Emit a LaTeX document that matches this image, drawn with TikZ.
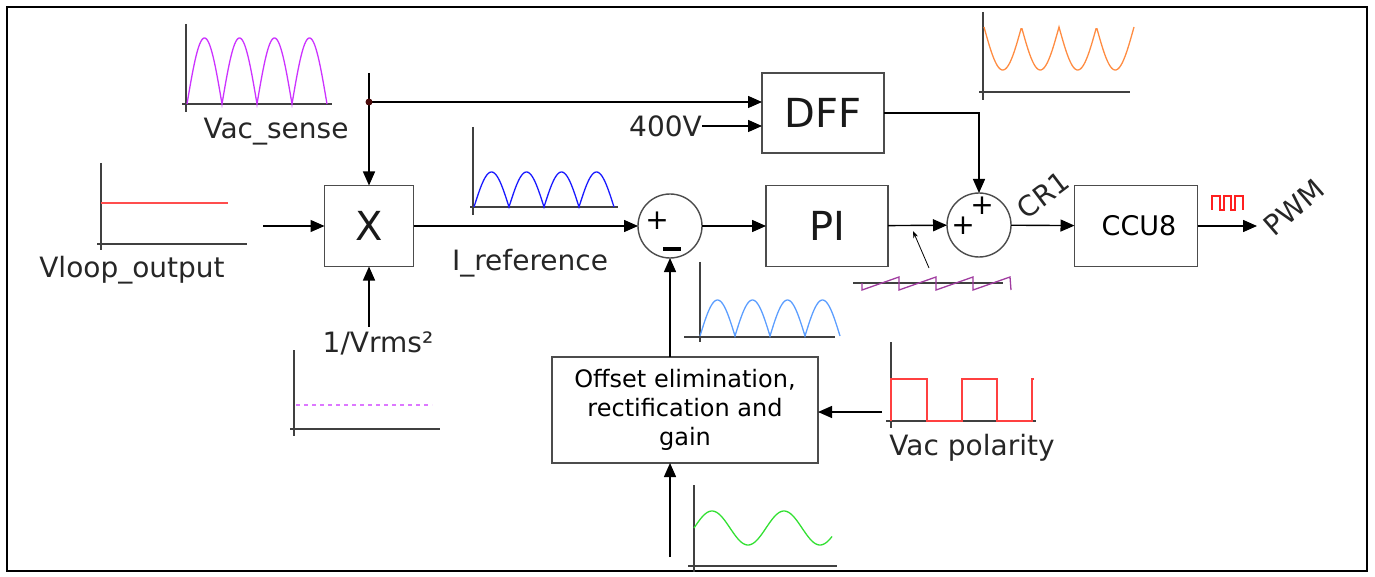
\documentclass[tikz,border=0pt]{standalone}
\usepackage{fontspec}
\setmainfont{DejaVu Sans}
\usetikzlibrary{arrows.meta}

\definecolor{vacviolet}{HTML}{CC33FF}
\definecolor{rmsviolet}{HTML}{DD77FF}
\definecolor{vloopred}{HTML}{FF4D4D}
\definecolor{irefblue}{HTML}{1A1AFF}
\definecolor{fbblue}{HTML}{5C9EFF}
\definecolor{dfforange}{HTML}{FF8C42}
\definecolor{sawpurple}{HTML}{A03CA0}
\definecolor{polred}{HTML}{FF4040}
\definecolor{sinegreen}{HTML}{33E033}
\definecolor{pwmred}{HTML}{FF2020}
\definecolor{dotred}{HTML}{4A0A0A}

\begin{document}
\begin{tikzpicture}[x=1pt, y=-1pt, >={Triangle[length=14pt, width=12pt]}]

  % Styles
  \tikzset{
    block/.style={draw=black!70, line width=1.4pt, inner sep=0pt, outer sep=0pt},
    sumjunction/.style={circle, draw=black!70, line width=1.4pt, minimum size=64pt, inner sep=0pt, outer sep=0pt},
    wire/.style={line width=1.4pt, ->},
    axis/.style={draw=black!75, line width=1.6pt},
    sig label/.style={font=\fontsize{28}{32}\selectfont, text=black!85, inner sep=0pt},
    big label/.style={font=\fontsize{40}{44}\selectfont, text=black!90},
    sign/.style={font=\fontsize{28}{30}\selectfont, inner sep=0pt}
  }

  \useasboundingbox (0,0) rectangle (1375,577);
  \draw[line width=2pt] (7,7) rectangle (1367,571);

  % --- BLOCKS ---
  \node[block, minimum width=89pt, minimum height=81pt, big label] (xmul) at (369,226) {X};
  \node[block, minimum width=122pt, minimum height=80pt, big label] (dff) at (823,113) {DFF};
  \node[block, minimum width=122pt, minimum height=81pt, big label] (pi) at (827,226) {PI};
  \node[block, minimum width=123pt, minimum height=81pt, font=\fontsize{27}{30}\selectfont] (ccu) at (1136,226) {\hspace{6pt}CCU8};
  \node[block, minimum width=266pt, minimum height=106pt, align=center, font=\fontsize{24}{29}\selectfont] (offset) at (685,410) {Offset elimination,\\rectification and\\gain};

  % --- SUMMING JUNCTIONS ---
  \node[sumjunction] (sum1) at (670,226) {};
  \node[sign] (s1plus) at (657,221) {+};
  \node[sign] (s1minus) at (672,249) {\rule{18pt}{4pt}};
  \node[sumjunction] (sum2) at (979,225) {};
  \node[sign] (s2plus) at (982,206) {+};
  \node[sign] (s2left) at (963,226) {+};

  % --- LABELS ---
  \node[sig label] (vacsense) at (276,132) {Vac\_sense};
  \node[sig label] (vloop) at (132,270) {Vloop\_output};
  \node[sig label] (rms) at (378,343) {1/Vrms²};
  \node[sig label] (iref) at (530,263) {I\_reference};
  \node[sig label, anchor=east] (v400) at (702,126) {400V};
  \node[sig label, rotate=37] (cr1) at (1043,195) {CR1};
  \node[sig label, rotate=41] (pwm) at (1294,207) {PWM};
  \node[sig label] (vacpol) at (972,448) {Vac polarity};

  % --- CONNECTIONS ---
  \coordinate (jn) at (369,102);
  \coordinate (vacin) at (369,73);
  \coordinate (vlin) at (263,226);
  \coordinate (rmsin) at (369,327);
  \coordinate (pwmout) at (1257,226);
  \coordinate (sinein) at (670,557);
  \coordinate (polin) at (882,412);
  \coordinate (sawfoot) at (929,268);
  \coordinate (sawtip) at (913,231);

  \draw[wire] (vacin) -- (xmul);
  \draw[wire] (jn) -- (jn -| dff.west);
  \fill[dotred] (jn) circle (3.5pt);
  \draw[wire] (v400) -- (v400 -| dff.west);
  \draw[wire] (dff.east) -- (dff.east -| sum2) -- (sum2);
  \draw[wire] (vlin) -- (xmul);
  \draw[wire] (rmsin) -- (xmul);
  \draw[wire] (xmul) -- (sum1);
  \draw[wire] (sum1) -- (pi);
  \draw[wire] (pi) -- (sum2);
  \draw[wire] (sum2) -- (ccu);
  \draw[wire] (ccu) -- (pwmout);
  \draw[wire] (offset.north -| sum1) -- (sum1);
  \draw[wire] (sinein) -- (sinein |- offset.south);
  \draw[wire] (polin) -- (polin -| offset.east);
  \draw[line width=0.8pt, -{Stealth[length=7pt, width=5pt]}] (sawfoot) -- (sawtip);

  % --- WAVEFORMS ---
  % Vac_sense
  \draw[axis] (186,24) -- (186,112);
  \draw[axis] (182,104) -- (332,104);
  \draw[vacviolet, line width=1.3pt] plot[domain=0:140, samples=141] ({187+\x},{104-66*abs(sin(180/35*\x))});

  % Vloop_output
  \draw[axis] (101,163) -- (101,250);
  \draw[axis] (97,244) -- (247,244);
  \draw[vloopred, line width=1.6pt] (101,203) -- (228,203);

  % 1/Vrms^2
  \draw[axis] (294,350) -- (294,436);
  \draw[axis] (290,429) -- (440,429);
  \draw[rmsviolet, line width=1.3pt, dash pattern=on 4pt off 4pt] (296,405) -- (432,405);

  % I_reference
  \draw[axis] (473,127) -- (473,215);
  \draw[axis] (470,207) -- (618,207);
  \draw[irefblue, line width=1.3pt] plot[domain=0:140, samples=141] ({474+\x},{207-35*abs(sin(180/35*\x))});

  % feedback current
  \draw[axis] (700,262) -- (700,342);
  \draw[axis] (684,337) -- (835,337);
  \draw[fbblue, line width=1.3pt] plot[domain=0:140, samples=141] ({700+\x},{336-36*abs(sin(180/35*\x))});

  % DFF output
  \draw[axis] (983,12) -- (983,100);
  \draw[axis] (979,92) -- (1130,92);
  \draw[dfforange, line width=1.3pt] plot[domain=0:150, samples=151] ({984+\x},{27+43*abs(sin(180/37.5*\x))});

  % sawtooth
  \draw[axis, line width=1.2pt] (853,283) -- (1003,283);
  \draw[sawpurple, line width=1.3pt] (862,283) -- (862,290) -- (899,277) -- (899,290) -- (936,277) -- (936,290)
    -- (973,277) -- (973,290) -- (1010,277) -- (1011,290);

  % Vac polarity
  \draw[axis] (891,342) -- (891,428);
  \draw[axis] (886,421) -- (1036,421);
  \draw[polred, line width=1.5pt] (891,421) -- (891,379) -- (927,379) -- (927,421) -- (962,421) -- (962,379)
    -- (997,379) -- (997,421) -- (1032,421) -- (1032,379) -- (1034,379);

  % input sine
  \draw[axis] (694,485) -- (694,572);
  \draw[axis] (688,566) -- (837,566);
  \draw[sinegreen, line width=1.3pt] plot[domain=0:138, samples=139] ({694+\x},{528-17*sin(5*\x)});

  % PWM pulses
  \draw[pwmred, line width=1.2pt] (1212,210) -- (1212,196) -- (1220,196) -- (1220,210) -- (1224,210) -- (1224,196)
    -- (1231,196) -- (1231,210) -- (1235,210) -- (1235,196) -- (1243,196) -- (1243,210);

\end{tikzpicture}
\end{document}
